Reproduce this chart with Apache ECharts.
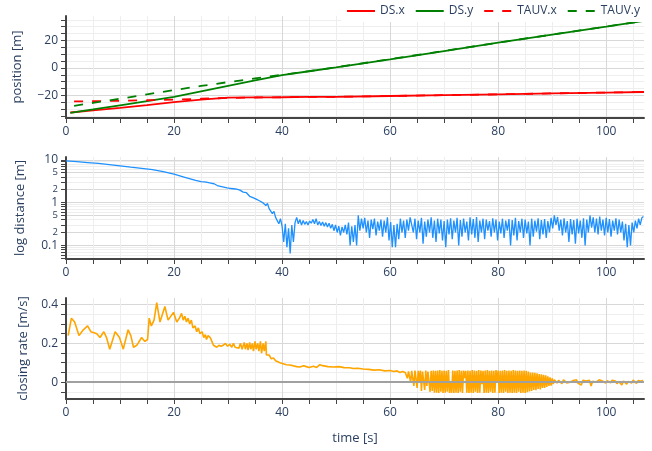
<!DOCTYPE html>
<html>
<head>
<meta charset="utf-8">
<title>DS / TAUV tracking</title>
<script src="https://cdn.jsdelivr.net/npm/echarts@6/dist/echarts.min.js"></script>
<style>
  html, body { margin: 0; padding: 0; background: #fff; }
  #chart { width: 652px; height: 451px; }
</style>
</head>
<body>
<div id="chart"></div>
<script>
// ---- values ----

// top panel: positions [m] at sample times [s]
const posTime  = [0.8, 5, 10, 15, 20, 25, 30, 35, 40, 45, 50, 60, 70, 80, 90, 100, 107];
const dsX      = [-32.4, -30.9, -29.0, -27.0, -24.8, -23.0, -21.6, -21.4, -21.3, -21.1, -21.0, -20.4, -19.8, -19.2, -18.5, -17.9, -17.5];
const dsY      = [-32.6, -30.2, -27.2, -24.2, -21.0, -17.0, -13.0, -9.0, -5.2, -2.4, 0.4, 6.3, 12.3, 18.4, 24.3, 30.1, 34.2];
const tauvTime = [1.5, 5, 10, 15, 20, 25, 30, 35, 40, 45, 50, 60, 70, 80, 90, 100, 107];
const tauvX    = [-24.3, -24.2, -23.9, -23.5, -23.0, -22.4, -21.8, -21.5, -21.3, -21.1, -21.0, -20.4, -19.8, -19.2, -18.5, -17.9, -17.5];
const tauvY    = [-27.5, -25.4, -22.4, -19.2, -16.1, -13.1, -10.3, -7.6, -5.0, -2.3, 0.5, 6.4, 12.4, 18.4, 24.3, 30.1, 34.2];

// middle panel: distance [m]; smooth start, then samples every 0.3 s from 25 s
const distTime = [0, 2, 4, 6, 8, 10, 12, 14, 16, 18, 20, 22, 24];
const distVal  = [9.4, 9.0, 8.6, 8.2, 7.7, 7.2, 6.7, 6.3, 5.9, 5.3, 4.6, 3.9, 3.3];
const distNoisyStart = 25, distNoisyStep = 0.3;
const distNoisy = [
  3.1, 3.0, 3.05, 2.9, 2.95, 2.8, 2.85, 2.7, 2.75, 2.65,
  2.5, 2.55, 2.4, 2.45, 2.3, 2.35, 2.2, 2.25, 2.15, 2.2,
  2.1, 2.0, 2.05, 1.9, 1.95, 1.8, 1.75, 1.65, 1.7, 1.55,
  1.4, 1.5, 1.3, 1.38, 1.2, 1.28, 1.1, 1.18, 1.0, 1.1,
  0.85, 0.95, 0.72, 0.8, 0.55, 0.62, 0.45, 0.5, 0.32, 0.42,
  0.28, 0.12, 0.32, 0.09, 0.25, 0.065, 0.3, 0.12, 0.34, 0.45,
  0.32, 0.4, 0.3, 0.38, 0.31, 0.36, 0.3, 0.37, 0.33, 0.4,
  0.32, 0.42, 0.3, 0.36, 0.29, 0.35, 0.28, 0.34, 0.27, 0.33,
  0.25, 0.31, 0.22, 0.3, 0.2, 0.28, 0.17, 0.27, 0.2, 0.3,
  0.18, 0.34, 0.1, 0.28, 0.12, 0.3, 0.1, 0.5, 0.22, 0.42,
  0.25, 0.44, 0.2, 0.38, 0.15, 0.4, 0.24, 0.42, 0.17, 0.36,
  0.22, 0.4, 0.16, 0.38, 0.2, 0.45, 0.13, 0.35, 0.09, 0.3,
  0.09, 0.32, 0.14, 0.42, 0.2, 0.38, 0.15, 0.4, 0.22, 0.45,
  0.5, 0.2, 0.42, 0.14, 0.38, 0.2, 0.44, 0.11, 0.36, 0.16,
  0.4, 0.2, 0.45, 0.15, 0.38, 0.12, 0.42, 0.19, 0.4, 0.13,
  0.37, 0.09, 0.4, 0.18, 0.43, 0.14, 0.38, 0.2, 0.44, 0.1,
  0.39, 0.16, 0.42, 0.2, 0.36, 0.13, 0.45, 0.18, 0.41, 0.15,
  0.46, 0.12, 0.38, 0.2, 0.42, 0.14, 0.4, 0.22, 0.37, 0.16,
  0.43, 0.2, 0.4, 0.13, 0.36, 0.19, 0.42, 0.15, 0.38, 0.22,
  0.41, 0.1, 0.39, 0.17, 0.44, 0.13, 0.37, 0.2, 0.42, 0.15,
  0.4, 0.19, 0.36, 0.1, 0.42, 0.16, 0.38, 0.21, 0.43, 0.14,
  0.39, 0.18, 0.41, 0.15, 0.37, 0.2, 0.44, 0.25, 0.5, 0.3,
  0.46, 0.22, 0.4, 0.17, 0.43, 0.2, 0.37, 0.12, 0.41, 0.18,
  0.39, 0.11, 0.42, 0.19, 0.38, 0.15, 0.43, 0.1, 0.4, 0.2,
  0.5, 0.26, 0.45, 0.2, 0.42, 0.18, 0.47, 0.22, 0.4, 0.17,
  0.44, 0.2, 0.41, 0.16, 0.38, 0.22, 0.43, 0.18, 0.4, 0.2,
  0.36, 0.13, 0.32, 0.09, 0.3, 0.1, 0.34, 0.2, 0.38, 0.25,
  0.42, 0.3, 0.44, 0.47
];

// bottom panel: closing rate [m/s]
const rateTime = [0.4, 1.0, 1.6, 2.4, 3.2, 4.0, 4.6, 5.2, 5.7, 6.3, 7.0, 7.5, 8.1, 9.1, 9.9, 10.6, 11.5, 12.0, 12.5, 13.1,
  14.0, 14.6, 15.1, 15.4, 15.8, 16.3, 16.8, 17.4, 18.3, 18.9, 19.9, 20.5, 21.0, 21.4, 21.7, 22.0, 22.3, 22.6, 22.9, 23.2,
  23.5, 23.9, 24.2, 24.5, 24.8, 25.2, 25.5, 25.8, 26.0, 26.3, 26.7, 27.0, 27.3, 27.6, 27.9, 28.3, 28.7, 29.1, 29.5, 29.9,
  30.3, 30.7, 31.0, 31.3, 31.6, 32.0, 32.3, 32.6, 33.0, 33.2, 33.5, 33.7, 34.0, 34.2, 34.5, 34.7, 35.0, 35.2, 35.5, 35.7,
  36.0, 36.2, 36.5, 36.7, 37.0, 37.1, 37.3, 37.6, 38.0, 38.4, 38.8, 39.2, 39.6, 40.2, 40.8, 41.4, 42.0, 42.7, 43.3, 44.0,
  44.5, 45.0, 45.8, 46.4, 47.0, 47.5, 48.5, 49.5, 50.5, 51.5, 52.5, 53.2, 54.0, 55.0, 56.0, 57.0, 58.0, 59.0, 60.0, 60.7,
  61.3, 61.8, 62.3];
const rateVal = [0.24, 0.33, 0.31, 0.24, 0.27, 0.29, 0.26, 0.255, 0.25, 0.23, 0.26, 0.23, 0.17, 0.26, 0.23, 0.17, 0.27, 0.24, 0.18, 0.19,
  0.23, 0.21, 0.22, 0.33, 0.29, 0.32, 0.41, 0.31, 0.39, 0.32, 0.36, 0.31, 0.33, 0.355, 0.32, 0.34, 0.31, 0.33, 0.3, 0.32,
  0.28, 0.29, 0.26, 0.28, 0.25, 0.26, 0.23, 0.245, 0.22, 0.24, 0.23, 0.21, 0.19, 0.2, 0.18, 0.19, 0.185, 0.19, 0.2, 0.185,
  0.195, 0.18, 0.2, 0.18, 0.19, 0.175, 0.2, 0.17, 0.205, 0.17, 0.2, 0.165, 0.205, 0.17, 0.2, 0.16, 0.21, 0.17, 0.2, 0.16,
  0.21, 0.15, 0.2, 0.16, 0.21, 0.14, 0.13, 0.14, 0.12, 0.125, 0.11, 0.105, 0.1, 0.095, 0.09, 0.088, 0.085, 0.08, 0.078, 0.085,
  0.08, 0.075, 0.082, 0.076, 0.09, 0.085, 0.08, 0.078, 0.08, 0.075, 0.074, 0.07, 0.072, 0.068, 0.066, 0.062, 0.064, 0.058, 0.06, 0.055,
  0.058, 0.05, 0.055];
// dense oscillation part, samples every 0.2 s from 62.6 s
const rateOscStart = 62.6, rateOscStep = 0.2;
const rateOsc = [
  0.055, 0.05, 0.058, 0.02, 0.055, 0.06, 0.0, 0.058, 0.052, -0.02,
  0.06, 0.055, -0.03, 0.058, 0.0, 0.06, -0.045, 0.055, 0.058, -0.04,
  0.06, -0.02, 0.055, 0.06, -0.05, 0.058, -0.045, 0.06, -0.055, 0.058,
  -0.055, 0.06, -0.056, 0.062, -0.05, 0.058, -0.056, 0.06, -0.055, 0.058,
  -0.05, 0.062, -0.056, 0.0, -0.055, 0.06, -0.056, 0.058, -0.054, 0.06,
  -0.056, 0.062, -0.05, 0.058, -0.056, 0.06, 0.02, 0.058, -0.055, 0.06,
  -0.056, 0.058, -0.054, 0.062, -0.056, 0.06, -0.05, 0.058, -0.056, 0.062,
  -0.055, 0.06, -0.01, 0.058, -0.056, 0.06, -0.054, 0.062, -0.056, 0.058,
  -0.05, 0.06, -0.056, 0.058, -0.055, 0.062, 0.0, 0.06, -0.056, 0.058,
  -0.055, 0.06, -0.056, 0.062, -0.05, 0.058, -0.056, 0.06, -0.054, 0.058,
  -0.056, 0.062, -0.055, 0.06, -0.056, 0.058, -0.05, 0.06, -0.056, 0.058,
  -0.054, 0.06, -0.056, 0.058, -0.052, 0.055, -0.048, 0.05, -0.045, 0.05,
  -0.04, 0.048, -0.042, 0.045, -0.035, 0.042, -0.038, 0.04, -0.03, 0.038,
  -0.03, 0.035, -0.025, 0.03, -0.02, 0.025, -0.018, 0.02, -0.01, 0.012
];
// settled part, samples every 0.3 s from 90.6 s
const rateTailStart = 90.6, rateTailStep = 0.3;
const rateTail = [
  0.008, -0.005, 0.01, 0.0, -0.008, 0.012, 0.002, -0.004, 0.006, 0.0,
  -0.01, 0.008, 0.0, 0.012, -0.006, 0.004, -0.015, 0.01, 0.0, 0.006,
  -0.004, 0.01, -0.02, 0.004, 0.008, 0.0, -0.006, 0.012, 0.002, 0.006,
  0.0, -0.005, 0.008, 0.004, -0.003, 0.01, 0.0, 0.006, -0.008, 0.004,
  0.012, -0.015, 0.006, 0.015, -0.01, 0.004, 0.008, -0.005, 0.01, 0.0,
  -0.006, 0.008, 0.002, 0.005, 0.01
];

// tick labels
const timeTicks = [0, 20, 40, 60, 80, 100];
const posTicks = [-20, 0, 20];
const distMajorTicks = [0.1, 0.2, 0.5, 1, 2, 5, 10];
const distAllTicks = [0.05, 0.06, 0.07, 0.08, 0.09, 0.1, 0.2, 0.3, 0.4, 0.5, 0.6, 0.7, 0.8, 0.9,
  1, 2, 3, 4, 5, 6, 7, 8, 9, 10];
const rateTicks = [0, 0.2, 0.4];

// ---- helpers ----
function zip(ts, vs) { return ts.map((t, i) => [t, vs[i]]); }
function sampled(t0, dt, vs) { return vs.map((v, i) => [+(t0 + i * dt).toFixed(2), v]); }

const textColor = '#2a3f5f';
const axisColor = '#444';
const gridMajor = '#d8d8d8';
const gridMinor = '#eeeeee';
const font = 'Open Sans';
const minus = v => String(v).replace('-', '\u2212');

function timeAxis(gridIndex, name) {
  return {
    type: 'value', gridIndex: gridIndex, min: 0, max: 107, splitNumber: 5,
    axisLine: { show: true, onZero: false, lineStyle: { color: axisColor, width: 2 } },
    axisTick: { show: true, customValues: timeTicks, length: 5, lineStyle: { color: axisColor } },
    minorTick: { show: true, splitNumber: 4, length: 5, lineStyle: { color: axisColor } },
    axisLabel: { customValues: timeTicks, color: textColor, fontSize: 12, fontFamily: font, margin: 8 },
    splitLine: { show: true, lineStyle: { color: gridMajor, width: 1 } },
    minorSplitLine: { show: true, lineStyle: { color: gridMinor, width: 1 } },
    name: name, nameLocation: 'middle', nameGap: 33,
    nameTextStyle: { color: textColor, fontSize: 13, fontFamily: font }
  };
}

function yName(name, gap) {
  return {
    name: name, nameLocation: 'middle', nameGap: gap, nameRotate: 90,
    nameTextStyle: { color: textColor, fontSize: 13, fontFamily: font }
  };
}

const chart = echarts.init(document.getElementById('chart'), null, { renderer: 'canvas' });

chart.setOption({
  animation: false,
  backgroundColor: '#fff',
  textStyle: { fontFamily: font },
  legend: {
    data: ['DS.x', 'DS.y', 'TAUV.x', 'TAUV.y'],
    right: 7, top: 0, padding: [5, 5, 5, 5],
    itemWidth: 28, itemHeight: 14, itemGap: 10,
    backgroundColor: '#fff',
    itemStyle: { opacity: 0 },
    lineStyle: { width: 2 },
    textStyle: { color: textColor, fontSize: 12, fontFamily: font }
  },
  grid: [
    { left: 66, right: 8, top: 16, height: 102, outerBoundsMode: 'none' },
    { left: 66, right: 8, top: 157, height: 102, outerBoundsMode: 'none' },
    { left: 66, right: 8, top: 298, height: 101, outerBoundsMode: 'none' }
  ],
  xAxis: [timeAxis(0, ''), timeAxis(1, ''), timeAxis(2, 'time [s]')],
  yAxis: [
    Object.assign({
      type: 'value', gridIndex: 0, min: -36.4, max: 37.8, splitNumber: 4,
      axisLine: { show: true, lineStyle: { color: axisColor, width: 2 } },
      axisTick: { show: true, customValues: posTicks, length: 5, lineStyle: { color: axisColor } },
      minorTick: { show: true, splitNumber: 4, length: 5, lineStyle: { color: axisColor } },
      axisLabel: { customValues: posTicks, formatter: minus, color: textColor, fontSize: 12, fontFamily: font, margin: 8 },
      splitLine: { show: true, lineStyle: { color: gridMajor } },
      minorSplitLine: { show: true, lineStyle: { color: gridMinor } }
    }, yName('position [m]', 42)),
    // log axis carrying the data: every decade sub-tick, light grid
    Object.assign({
      type: 'log', logBase: 10, gridIndex: 1, position: 'left', min: 0.048, max: 11.6,
      axisLine: { show: true, lineStyle: { color: axisColor, width: 2 } },
      axisTick: { show: true, customValues: distAllTicks, length: 5, lineStyle: { color: axisColor } },
      axisLabel: { show: false },
      splitLine: { show: true, lineStyle: { color: gridMinor } }
    }, yName('log distance [m]', 39)),
    // overlay log axis for the labelled lines 1-2-5
    {
      type: 'log', logBase: 10, gridIndex: 1, position: 'left', min: 0.048, max: 11.6,
      axisLine: { show: false },
      axisTick: { show: false, customValues: distMajorTicks },
      axisLabel: {
        customValues: distMajorTicks, margin: 8, fontFamily: font,
        formatter: function (v) {
          const lg = Math.log10(v);
          if (Math.abs(lg - Math.round(lg)) < 1e-6) return '{big|' + (+v.toPrecision(3)) + '}';
          return '{small|' + Math.round(v / Math.pow(10, Math.floor(lg + 1e-9))) + '}';
        },
        rich: {
          big: { color: textColor, fontSize: 12, fontFamily: font },
          small: { color: textColor, fontSize: 9.5, fontFamily: font }
        }
      },
      splitLine: { show: true, lineStyle: { color: gridMajor } }
    },
    Object.assign({
      type: 'value', gridIndex: 2, min: -0.087, max: 0.434, splitNumber: 3,
      axisLine: { show: true, lineStyle: { color: axisColor, width: 2 } },
      axisTick: { show: true, customValues: rateTicks, length: 5, lineStyle: { color: axisColor } },
      minorTick: { show: true, splitNumber: 4, length: 5, lineStyle: { color: axisColor } },
      axisLabel: { customValues: rateTicks, color: textColor, fontSize: 12, fontFamily: font, margin: 8 },
      splitLine: { show: true, lineStyle: { color: gridMajor } },
      minorSplitLine: { show: true, lineStyle: { color: gridMinor } }
    }, yName('closing rate [m/s]', 36))
  ],
  series: [
    { name: 'DS.x', type: 'line', xAxisIndex: 0, yAxisIndex: 0, data: zip(posTime, dsX),
      symbol: 'none', color: '#ff0000', lineStyle: { width: 1.8 }, z: 3 },
    { name: 'DS.y', type: 'line', xAxisIndex: 0, yAxisIndex: 0, data: zip(posTime, dsY),
      symbol: 'none', color: '#008000', lineStyle: { width: 1.8 }, z: 3 },
    { name: 'TAUV.x', type: 'line', xAxisIndex: 0, yAxisIndex: 0, data: zip(tauvTime, tauvX),
      symbol: 'none', color: '#ff0000', lineStyle: { width: 1.8, type: [9, 9] }, z: 3 },
    { name: 'TAUV.y', type: 'line', xAxisIndex: 0, yAxisIndex: 0, data: zip(tauvTime, tauvY),
      symbol: 'none', color: '#008000', lineStyle: { width: 1.8, type: [9, 9] }, z: 3 },
    { name: 'distance', type: 'line', xAxisIndex: 1, yAxisIndex: 1,
      data: zip(distTime, distVal).concat(sampled(distNoisyStart, distNoisyStep, distNoisy)),
      symbol: 'none', color: '#1e90ff', lineStyle: { width: 1.3 }, z: 3 },
    { name: 'zero', type: 'line', xAxisIndex: 2, yAxisIndex: 3, data: [], z: 2,
      markLine: { silent: true, symbol: 'none', label: { show: false }, animation: false,
        lineStyle: { color: '#a0a0a0', width: 2, type: 'solid' }, data: [{ yAxis: 0 }] } },
    { name: 'closing rate', type: 'line', xAxisIndex: 2, yAxisIndex: 3,
      data: zip(rateTime, rateVal).concat(sampled(rateOscStart, rateOscStep, rateOsc), sampled(rateTailStart, rateTailStep, rateTail)),
      symbol: 'none', color: '#ffa500', lineStyle: { width: 1.6 }, z: 3 }
  ]
});
</script>
</body>
</html>
